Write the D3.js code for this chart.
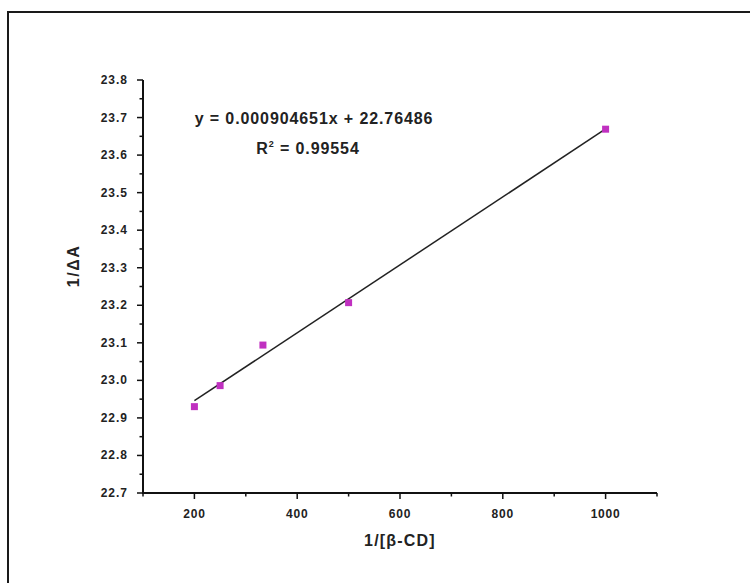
<!DOCTYPE html>
<html>
<head>
<meta charset="utf-8">
<script src="https://cdn.jsdelivr.net/npm/d3@7"></script>
<style>
  body { margin: 0; background: #fff; }
  text { font-family: "Liberation Sans", Arial, sans-serif; font-weight: bold; fill: #222; }
</style>
</head>
<body>
<div id="chart"></div>
<script>
// data
var xValues = [200, 250, 333.33, 500, 1000];
var yValues = [22.93, 22.986, 23.094, 23.207, 23.669];
var slope = 0.000904651, intercept = 22.76486;
var xTicks = [200, 400, 600, 800, 1000];
var yTicks = [22.7, 22.8, 22.9, 23.0, 23.1, 23.2, 23.3, 23.4, 23.5, 23.6, 23.7, 23.8];
var eqLabel = "y = 0.000904651x + 22.76486";

var width = 750, height = 583;
var svg = d3.select("#chart").append("svg")
    .attr("width", width)
    .attr("height", height);

// outer frame (only top and left show in the picture)
svg.append("path")
    .attr("d", "M8,583 V12 H750")
    .attr("fill", "none")
    .attr("stroke", "#1a1a1a")
    .attr("stroke-width", 2);

var xScale = d3.scaleLinear().domain([100, 1100]).range([143, 657]);
var yScale = d3.scaleLinear().domain([22.7, 23.8]).range([493, 80]);

// x axis
var xAxis = svg.append("g").attr("transform", "translate(0,493)");
xAxis.append("line").attr("x1", 142).attr("x2", 657)
    .attr("stroke", "#111").attr("stroke-width", 2);
xAxis.selectAll(".minor").data(d3.range(100, 1101, 100))
    .enter().append("line")
    .attr("x1", d => xScale(d)).attr("x2", d => xScale(d))
    .attr("y1", 0).attr("y2", d => xTicks.indexOf(d) >= 0 ? 6 : 3.5)
    .attr("stroke", "#111").attr("stroke-width", 1.5);
xAxis.selectAll(".lbl").data(xTicks)
    .enter().append("text")
    .attr("x", d => xScale(d)).attr("y", 25)
    .attr("text-anchor", "middle")
    .attr("font-size", 12)
    .attr("letter-spacing", 0.8)
    .text(d => d);

// y axis
var yAxis = svg.append("g").attr("transform", "translate(143,0)");
yAxis.append("line").attr("y1", 80).attr("y2", 494)
    .attr("stroke", "#111").attr("stroke-width", 2);
var yAll = d3.range(0, 23).map(i => 22.7 + i * 0.05);
yAxis.selectAll(".tk").data(yAll)
    .enter().append("line")
    .attr("y1", d => yScale(d)).attr("y2", d => yScale(d))
    .attr("x1", 0).attr("x2", (d, i) => i % 2 === 0 ? -6 : -3.5)
    .attr("stroke", "#111").attr("stroke-width", 1.5);
yAxis.selectAll(".lbl").data(yTicks)
    .enter().append("text")
    .attr("x", -15).attr("y", d => yScale(d) + 4)
    .attr("text-anchor", "end")
    .attr("font-size", 12)
    .attr("letter-spacing", 1)
    .text(d => d.toFixed(1));

// fitted line
svg.append("line")
    .attr("x1", xScale(200)).attr("y1", yScale(slope * 200 + intercept))
    .attr("x2", xScale(1000)).attr("y2", yScale(slope * 1000 + intercept))
    .attr("stroke", "#222").attr("stroke-width", 1.5);

// points
svg.selectAll(".pt").data(xValues)
    .enter().append("rect")
    .attr("x", d => xScale(d) - 3.5)
    .attr("y", (d, i) => yScale(yValues[i]) - 3.5)
    .attr("width", 7).attr("height", 7)
    .attr("fill", "#c030c0");

// equation
svg.append("text").attr("x", 314).attr("y", 124)
    .attr("text-anchor", "middle").attr("font-size", 16)
    .attr("letter-spacing", 0.9)
    .text(eqLabel);
var r2 = svg.append("text").attr("x", 308).attr("y", 154)
    .attr("text-anchor", "middle").attr("font-size", 16)
    .attr("letter-spacing", 0.9);
r2.append("tspan").text("R");
r2.append("tspan").attr("dy", -7).attr("font-size", 9).text("2");
r2.append("tspan").attr("dy", 7).text(" = 0.99554");

// axis titles
svg.append("text").attr("x", 400).attr("y", 546)
    .attr("text-anchor", "middle").attr("font-size", 16)
    .attr("letter-spacing", 1.2)
    .text("1/[β-CD]");
svg.append("text")
    .attr("transform", "translate(79,266) rotate(-90)")
    .attr("text-anchor", "middle").attr("font-size", 16)
    .attr("letter-spacing", 1.5)
    .text("1/ΔA");
</script>
</body>
</html>
